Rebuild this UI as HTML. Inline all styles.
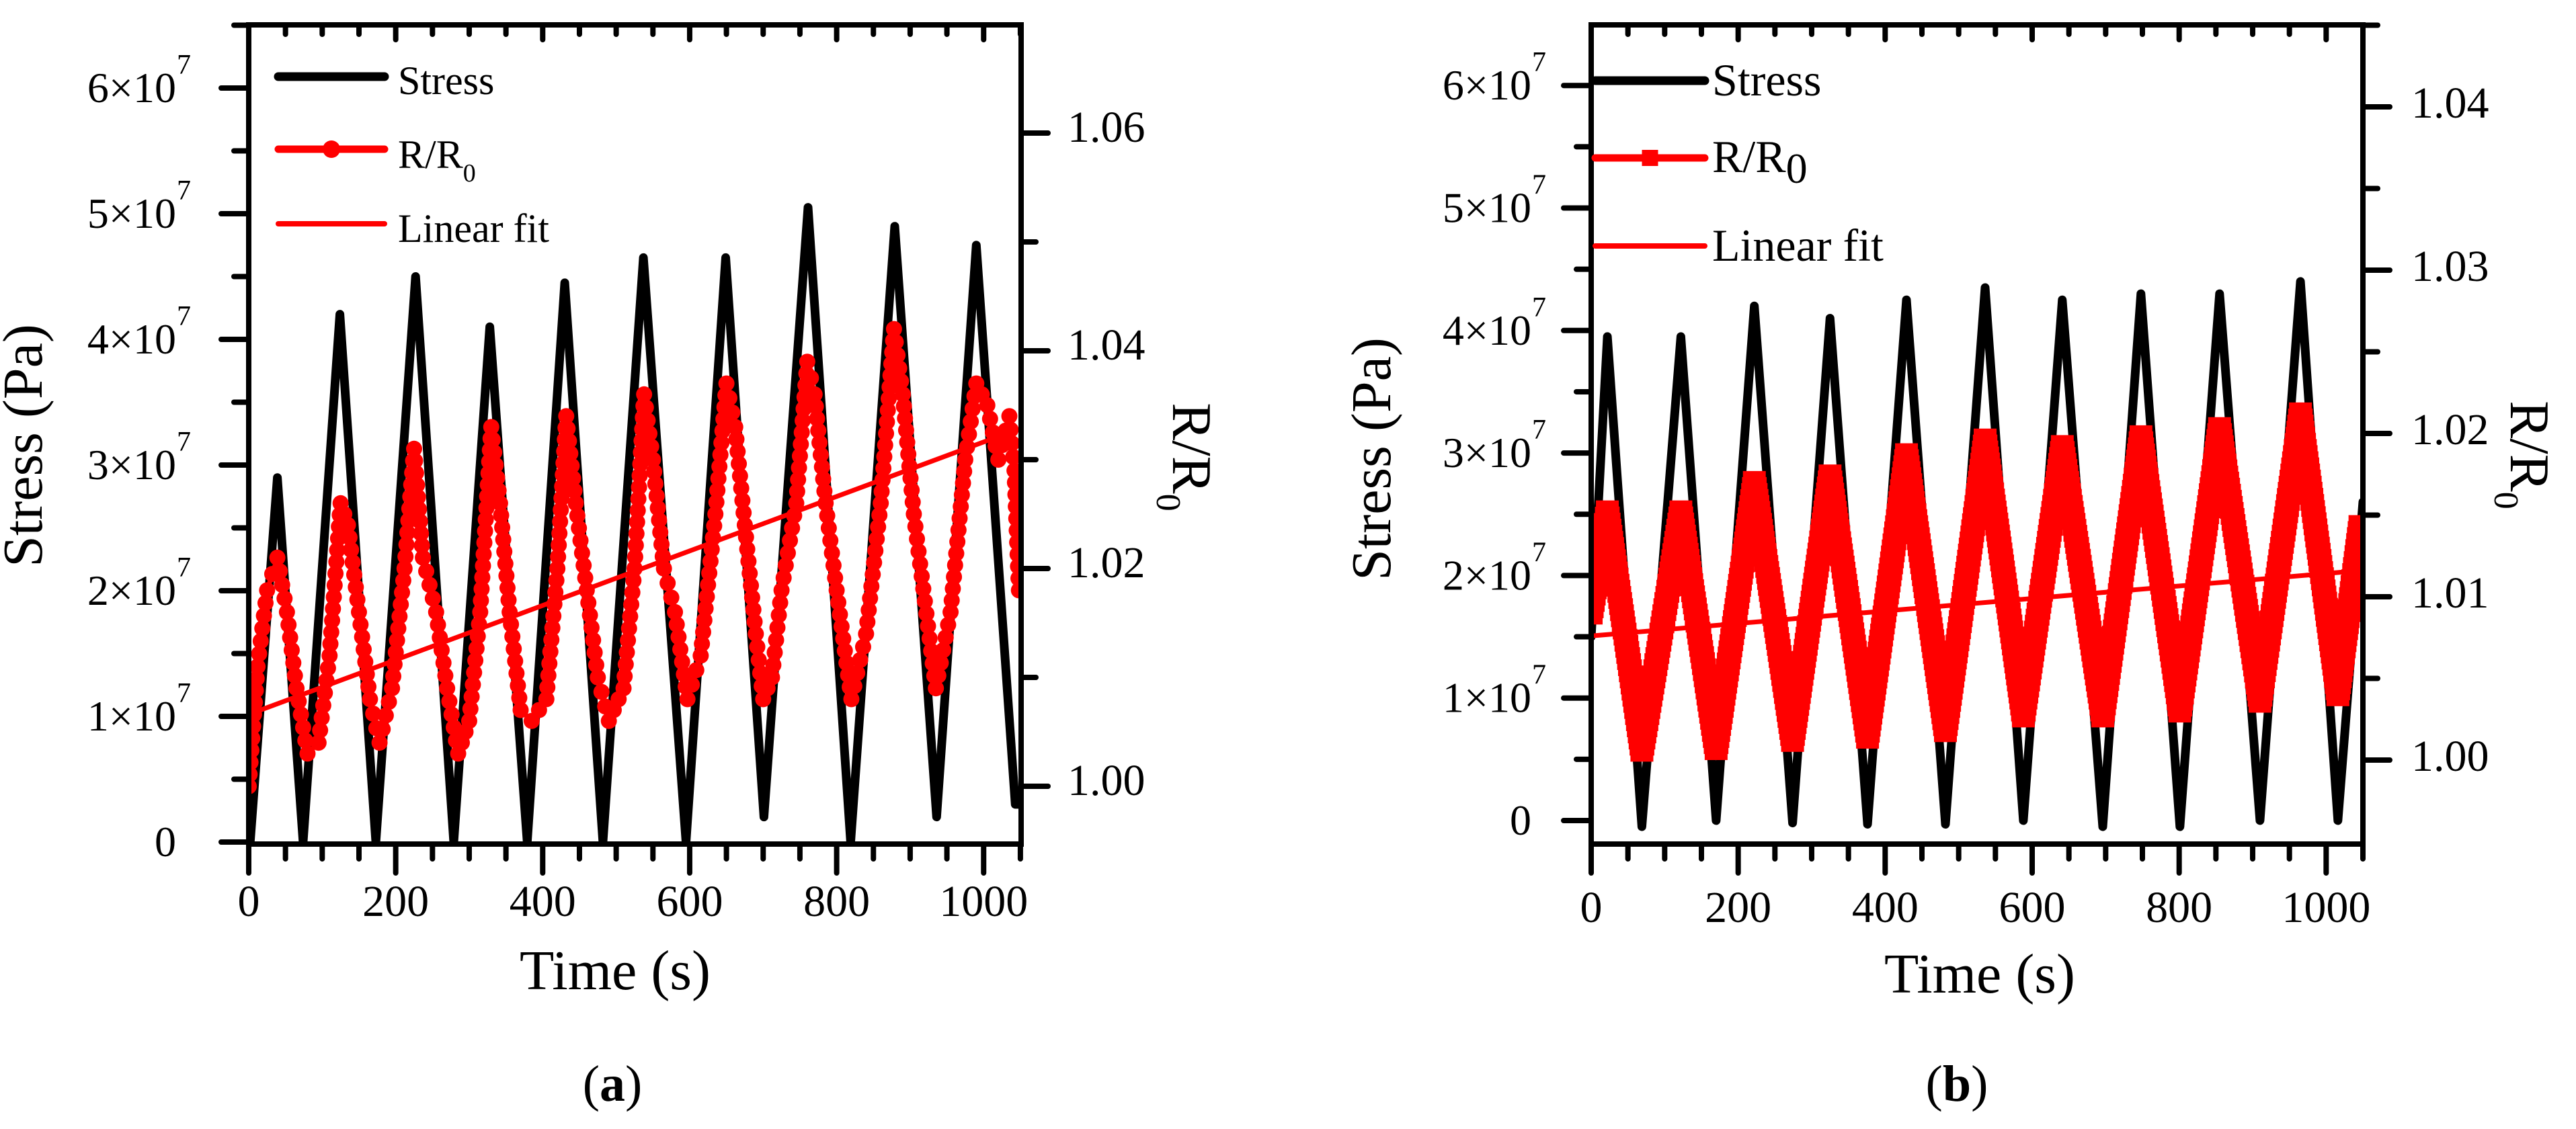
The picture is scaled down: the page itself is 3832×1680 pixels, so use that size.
<!DOCTYPE html>
<html><head><meta charset="utf-8"><style>
html,body{margin:0;padding:0;background:#fff;}
svg{display:block;}
*{font-family:"Liberation Serif","Times New Roman",serif !important;}
svg text{fill:#000;}
</style></head><body>
<svg id="fig" width="3832" height="1680" viewBox="0 0 3832 1680" xmlns="http://www.w3.org/2000/svg" style="font-family:'Liberation Serif',serif"></svg>
<script>
// ---- Panel (a) data ----
const aStressT = [2,39,74,124,173,227,279,328,379,430,482,537,595,649,701,761,819,879,936,990,1043,1048];
const aStressV = [0,2.9,0,4.2,0,4.5,0,4.1,0,4.45,0,4.65,0,4.65,0.2,5.05,0,4.9,0.2,4.75,0.3,0.3];
const aRT = [0,12,25,39,52,65,80,95,110,125,135,150,165,178,195,212,225,237,255,270,285,300,315,330,342,355,370,385,405,420,432,445,460,475,490,510,525,538,550,565,580,597,615,635,650,662,675,690,700,712,725,745,760,770,785,800,820,840,860,878,890,905,920,935,955,975,990,1005,1020,1035,1042,1048];
const aRV = [1.000,1.011,1.018,1.021,1.016,1.009,1.003,1.004,1.012,1.026,1.024,1.016,1.008,1.004,1.009,1.020,1.031,1.021,1.016,1.009,1.003,1.006,1.016,1.033,1.026,1.016,1.007,1.006,1.008,1.020,1.034,1.026,1.018,1.010,1.006,1.009,1.020,1.036,1.030,1.020,1.016,1.008,1.012,1.025,1.037,1.033,1.024,1.014,1.008,1.010,1.018,1.026,1.039,1.036,1.026,1.018,1.008,1.014,1.026,1.042,1.036,1.025,1.017,1.009,1.016,1.030,1.037,1.035,1.030,1.034,1.029,1.018];
const aFitT = [0,1035];
const aFitV = [1.0066,1.0325];
// ---- Panel (b) data ----
const bStressT = [0,22,69,122,170,222,274,325,376,429,482,536,588,641,696,748,801,855,910,965,1016,1050];
const bStressV = [1.5,3.95,-0.05,3.95,0,4.2,-0.02,4.1,-0.03,4.25,-0.03,4.35,0,4.25,-0.05,4.3,-0.05,4.3,0,4.4,0,2.6];
const bRT = [0,22,69,122,170,222,274,325,376,429,482,536,588,641,696,748,801,855,910,965,1016,1046];
const bRV = [1.009,1.0152,1.0006,1.0152,1.0007,1.0170,1.0012,1.0174,1.0014,1.0187,1.0018,1.0196,1.0027,1.0192,1.0027,1.0198,1.0030,1.0203,1.0036,1.0212,1.0040,1.0143];
const bFitT = [0,1046];
const bFitV = [1.0076,1.0116];
// tick labels
const xTicks = [0,200,400,600,800,1000];
const stressTicks = [0,1,2,3,4,5,6];
const aRTicks = ["1.00","1.02","1.04","1.06"];
const bRTicks = ["1.00","1.01","1.02","1.03","1.04"];

const NS = "http://www.w3.org/2000/svg";
const svg = document.getElementById('fig');
function mk(tag, attrs, parent){const e=document.createElementNS(NS,tag);for(const k in attrs)e.setAttribute(k,attrs[k]);if(tag==='text')e.setAttribute('style',"font-family:'Liberation Serif',serif");(parent||svg).appendChild(e);return e;}

function panel(cfg){
  const g = mk('g',{});
  
  
  const L=cfg.L,R=cfg.R,T=cfg.T,B=cfg.B;
  const X = t => L + t/(cfg.xMax) * (R - L);
  const YS = v => cfg.s0 - v*cfg.sPer;
  const YR = v => cfg.r0 - (v-1.00)*100*cfg.rPer;
  const clipId='clip'+cfg.id;
  const cp = mk('clipPath',{id:clipId},g); mk('rect',{x:L,y:T,width:R-L,height:B-T},cp);
  const plot = mk('g',{'clip-path':'url(#'+clipId+')'},g);
  
  
  let d = cfg.sT.map((t,i)=>(i?'L':'M')+X(t).toFixed(1)+' '+YS(cfg.sV[i]).toFixed(1)).join(' ');
  const sl = mk('path',{d:d,fill:'none',stroke:'#000','stroke-width':13,'stroke-linejoin':'round','stroke-linecap':'round'},plot);
  
  
  const rg = mk('g',{},plot);
  
  
  const pts = cfg.rT.map((t,i)=>[X(t),YR(cfg.rV[i])]);
  d = pts.map((p,i)=>(i?'L':'M')+p[0].toFixed(1)+' '+p[1].toFixed(1)).join(' ');
  mk('path',{d:d,fill:'none',stroke:'#f00','stroke-width':cfg.square?32:7,'stroke-linejoin':'round'},rg);
  const step = cfg.square?9:17;
  for(let i=0;i<pts.length;i++){
    const p=pts[i];
    drawMarker(rg,p[0],p[1],cfg.square);
    if(i<pts.length-1){
      const q=pts[i+1];const len=Math.hypot(q[0]-p[0],q[1]-p[1]);const n=Math.floor(len/step);
      for(let k=1;k<n;k++){drawMarker(rg,p[0]+(q[0]-p[0])*k/n,p[1]+(q[1]-p[1])*k/n,cfg.square);}
    }
  }
  const fl = mk('line',{x1:X(cfg.fT[0]),y1:YR(cfg.fV[0]),x2:X(cfg.fT[1]),y2:YR(cfg.fV[1]),stroke:'#f00','stroke-width':7},plot);
  
  
  const ax = mk('g',{stroke:'#000','stroke-width':8,'stroke-linecap':'round',fill:'none'},g);
  
  
  mk('rect',{x:L,y:T,width:R-L,height:B-T},ax);
  for(let t=0;t<=cfg.xMax;t+=50){
    const x=X(t);const major=t%200===0;
    mk('line',{x1:x,y1:B,x2:x,y2:B+(major?43:22)},ax);
    mk('line',{x1:x,y1:T,x2:x,y2:T+(major?22:14)},ax);
  }
  xTicks.forEach(t=>{
    const tx=mk('text',{x:X(t),y:cfg.xLabY,'font-size':66,'text-anchor':'middle'},g);tx.textContent=t;
    
    
  });
  for(let v=0;v<=6.5;v+=0.5){
    const y=YS(v);if(y>B+1||y<T)continue;const major=Math.abs(v-Math.round(v))<1e-6;
    mk('line',{x1:L,y1:y,x2:L-(major?41:22),y2:y},ax);
  }
  stressTicks.forEach(v=>{
    const y=YS(v);
    const tx=mk('text',{x:cfg.sLabX,y:y+21,'font-size':64,'text-anchor':'end'},g);
    
    
    if(v===0){tx.textContent='0';}
    else{tx.textContent=v+'\u00d710';
      const sup=mk('text',{x:cfg.sLabX+1,y:y-21,'font-size':42},g);sup.textContent='7';
      
      }
  });
  for(let i=0;;i++){
    const v=1.00+i*cfg.rMinor;const y=YR(v);if(y<T)break;
    const major=i%2===0;
    mk('line',{x1:R,y1:y,x2:R+(major?40:22),y2:y},ax);
  }
  cfg.rTicks.forEach(s=>{
    const y=YR(parseFloat(s));
    const tx=mk('text',{x:cfg.rLabX,y:y+cfg.rLabDy,'font-size':66},g);tx.textContent=s;
    
    
  });
  const yt=mk('text',{x:0,y:0,'font-size':84,'text-anchor':'middle',transform:`translate(${cfg.ytX},${cfg.ytY}) rotate(-90)`},g);
  yt.textContent='Stress (Pa)';
  
  
  const xt=mk('text',{x:cfg.xtX,y:cfg.xtY,'font-size':84,'text-anchor':'middle'},g);xt.textContent='Time (s)';
  
  
  const rt=mk('text',{x:0,y:0,'font-size':84,'text-anchor':'middle',transform:`translate(${cfg.rtX},${cfg.rtY}) rotate(90)`},g);
  
  
  rt.appendChild(document.createTextNode('R/R'));
  const ts=mk('tspan',{'font-size':52,dy:24},rt);ts.textContent='0';
  const cap=mk('text',{x:cfg.capX,y:1638,'font-size':76,'text-anchor':'middle'},g);
  
  
  cap.appendChild(document.createTextNode('('));
  const bb=mk('tspan',{'font-weight':'bold'},cap);bb.textContent=cfg.id;
  cap.appendChild(document.createTextNode(')'));
  const lg=mk('g',{},g);
  
  
  const le=cfg.leg;
  const e1=mk('g',{},lg);
  mk('line',{x1:le.x1,y1:le.y[0],x2:le.x2,y2:le.y[0],stroke:'#000','stroke-width':13,'stroke-linecap':'round'},e1);
  let t1=mk('text',{x:le.tx,y:le.ty[0],'font-size':le.fs},e1);t1.textContent='Stress';
  const e2=mk('g',{},lg);
  mk('line',{x1:le.x1,y1:le.y[1],x2:le.x2,y2:le.y[1],stroke:'#f00','stroke-width':11,'stroke-linecap':'round'},e2);
  if(cfg.square) mk('rect',{x:(le.x1+le.x2)/2-12,y:le.y[1]-12,width:24,height:24,fill:'#f00'},e2);
  else mk('circle',{cx:(le.x1+le.x2)/2,cy:le.y[1],r:13,fill:'#f00'},e2);
  let t2=mk('text',{x:le.tx,y:le.ty[1],'font-size':le.fs},e2);t2.appendChild(document.createTextNode('R/R'));
  const s2=mk('tspan',{'font-size':le.subFs,dy:le.subDy},t2);s2.textContent='0';
  const e3=mk('g',{},lg);
  mk('line',{x1:le.x1,y1:le.y[2],x2:le.x2,y2:le.y[2],stroke:'#f00','stroke-width':8,'stroke-linecap':'round'},e3);
  let t3=mk('text',{x:le.tx,y:le.ty[2],'font-size':le.fs},e3);t3.textContent='Linear fit';
}
function drawMarker(parent,x,y,sq){
  if(sq) mk('rect',{x:x-17,y:y-17,width:34,height:34,fill:'#f00'},parent);
  else mk('circle',{cx:x,cy:y,r:12,fill:'#f00'},parent);
}

panel({id:'a',L:370,R:1519,T:37,B:1256,xMax:1051,
  s0:1253,sPer:187,r0:1170,rPer:162,rMinor:0.01,rTicks:aRTicks,
  sT:aStressT,sV:aStressV,rT:aRT,rV:aRV,fT:aFitT,fV:aFitV,square:false,
  xLabY:1363,sLabX:262,rLabX:1588,rLabDy:13,
  ytX:62,ytY:663,xtX:915,xtY:1472,rtX:1745,rtY:680,capX:911,
  leg:{x1:414,x2:572,y:[114,222,333],tx:592,ty:[140,250,360],fs:60,subFs:38,subDy:20}
});
panel({id:'b',L:2367,R:3515,T:37,B:1256,xMax:1050,
  s0:1221,sPer:182.3,r0:1131,rPer:243,rMinor:0.005,rTicks:bRTicks,
  sT:bStressT,sV:bStressV,rT:bRT,rV:bRV,fT:bFitT,fV:bFitV,square:true,
  xLabY:1372,sLabX:2278,rLabX:3587,rLabDy:16,
  ytX:2068,ytY:683,xtX:2945,xtY:1477,rtX:3735,rtY:677,capX:2911,
  leg:{x1:2373,x2:2536,y:[120,235,366],tx:2547,ty:[142,256,388],fs:68,subFs:64,subDy:16}
});
</script>
</body></html>
